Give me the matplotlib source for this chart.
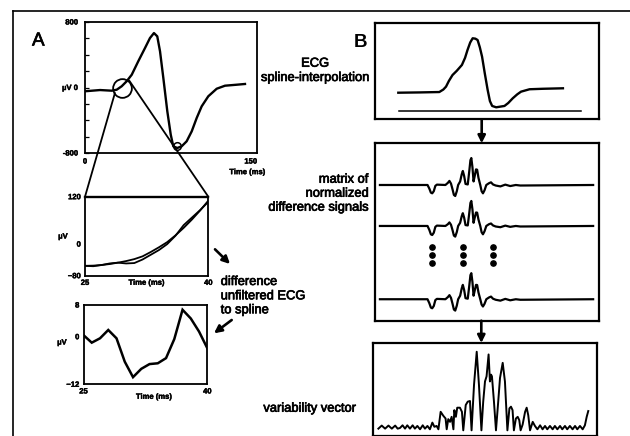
import matplotlib
matplotlib.use('Agg')
import matplotlib.pyplot as plt
from matplotlib.patches import ConnectionPatch
import matplotlib.patheffects as pe

plt.rcParams['font.family'] = ['Liberation Sans', 'DejaVu Sans']

# ---------------- data ----------------
# Panel A, top: full ECG beat (time ms, microvolt)
ecg_t = [0, 13.6, 24.2, 28.7, 33.2, 37.7, 42.3, 48.2, 54.3, 58.8, 62.4, 65.4, 67.9,
         70.9, 74.5, 77.6, 79.9, 83.5, 87.5, 92.0, 96.6, 101.1, 105.6, 111.6, 119.2,
         126.7, 137.3, 144.8]
ecg_uv = [-46, -31, -39, -27, 15, 76, 156, 320, 482, 604, 665, 625, 442,
          116, -291, -576, -718, -739, -718, -657, -535, -372, -230, -107, -15,
          22, 34, 43]

# Panel A, middle: zoom 25-40 ms, unfiltered ECG and spline
zoom_t = [25, 26, 27, 28, 29, 30, 31, 32, 33, 34, 35, 36, 37, 38, 39, 40]
zoom_spline = [-55, -54.5, -53, -50.5, -47, -43, -38, -31, -20, -8, 5, 22, 41, 62, 85, 110]
zoom_ecg = [-55, -56, -53, -49, -47, -49, -48, -39, -27, -15, 0, 21, 48, 67, 86, 107]

# Panel A, bottom: difference unfiltered ECG - spline
diff_uv = [0.4, -1.5, -0.4, 1.7, -0.4, -6.3, -10.2, -8.1, -6.9, -6.7, -5.4, -0.6,
           6.8, 4.6, 1.3, -2.9]

# Panel B, box 1: spline ECG (arbitrary units)
b_ecg_t = [10.4, 20, 28.7, 30.5, 31.7, 33.0, 34.6, 36.5, 38.8, 40.2, 41.3, 42.5, 43.6,
           44.8, 45.8, 46.8, 47.8, 49.0, 50.3, 51.3, 52.3, 54.1, 57.8, 59.5, 61.5,
           63.5, 65.2, 69.0, 75.0, 83.9]
b_ecg_v = [27.7, 28.0, 28.4, 31.0, 34.0, 40.0, 46.1, 50.5, 56.6, 64.0, 72.2, 80.0, 84.4,
           84.0, 82.6, 75.0, 65.2, 48.0, 30.5, 19.0, 13.9, 12.5, 13.9, 17.0, 21.9,
           26.0, 28.8, 31.3, 31.8, 32.3]
b_base_t = [10.7, 92]
b_base_v = [8.3, 8.3]

# Panel B, box 2: normalized difference signals (three rows)
diff_u = [2.2, 23.5, 24.3, 25.0, 25.6, 26.3, 27.0, 27.7, 31.5, 32.6, 33.3, 34.0, 34.7,
          35.3, 35.9, 36.6, 37.2, 38.1, 38.8, 39.3, 39.9, 40.5, 41.5, 42.2, 42.7, 43.1,
          43.6, 44.1, 44.6, 45.2, 45.7, 46.3, 47.1, 47.7, 48.3, 49.0, 49.8, 51.0, 51.9,
          52.8, 54.0, 56.1, 58.3, 60.5, 63.0, 65.0, 97.6]
diff_row1 = [0, 0, -2.0, -4.3, -4.7, -3.5, -0.5, 0.2, 0, 1.2, 2.3, 0.8, -2.5, -5.6, -6.2,
             -3.5, 0, 2.0, 6.0, 7.9, 5.0, 0.6, 0.3, 8.0, 14.0, 15.2, 10.0, 2.0, 5.0, 8.8,
             8.6, 4.0, 0, -3.5, -4.7, -3.0, 0, 1.0, 1.5, 0.3, -0.3, -0.8, 0.2, -0.6, 0.0,
             -0.3, 0]
diff_row2 = [0, 0, -2.2, -4.7, -5.1, -3.8, -0.5, 0.2, 0, 1.0, 2.0, 0.7, -2.4, -5.4, -6.0,
             -3.4, 0, 1.8, 5.5, 7.2, 4.6, 0.5, 0.3, 7.5, 13.0, 14.1, 9.3, 1.8, 4.6, 7.6,
             7.5, 3.6, 0, -3.5, -4.7, -3.0, 0, 1.0, 1.4, 0.3, -0.3, -0.7, 0.2, -0.5, 0.0,
             -0.3, 0]
diff_row3 = [0, 0, -2.2, -4.7, -5.1, -3.8, -0.5, 0.2, 0, 1.2, 2.3, 0.8, -2.6, -5.8, -6.4,
             -3.6, 0, 2.0, 6.1, 8.1, 5.1, 0.6, 0.3, 7.8, 13.6, 14.7, 9.7, 2.0, 4.8, 8.1,
             8.0, 3.8, 0, -3.0, -4.1, -2.6, 0, 1.0, 1.5, 0.3, -0.3, -0.8, 0.2, -0.6, 0.0,
             -0.3, 0]
dot_cols = [25.7, 39.3, 52.6]
dot_rows = [41.7, 37.0, 32.3]

# Panel B, box 3: variability vector
var_u = [2.4, 3.9, 5.4, 6.9, 8.4, 9.9, 11.0, 12.05, 13.2, 14.3, 15.3, 16.5, 17.7, 18.7,
         19.8, 21.0, 22.2, 23.2, 24.3, 25.4, 26.5, 27.4, 28.4, 29.2, 30.2, 31.4, 32.4,
         32.9, 33.6, 34.4, 35.1, 35.9, 36.3, 37.0, 37.6, 38.8, 39.7, 40.3, 41.4, 42.3,
         43.3, 44.0, 45.1, 46.3, 47.3, 48.4, 49.2, 50.0, 50.7, 51.6, 52.2, 52.7, 53.1,
         54.0, 54.9, 55.9, 56.7, 57.9, 58.9, 60.0, 60.9, 61.6, 62.3, 62.9, 63.8, 64.6,
         65.3, 65.9, 66.8, 67.9, 68.6, 69.3, 70.1, 71.3, 72.3, 73.4, 74.6, 75.7, 76.8,
         77.8, 79.0, 80.2, 81.2, 82.3, 83.5, 84.5, 85.7, 86.7, 87.9, 89.1, 90.2, 91.2,
         92.4, 93.6, 94.6, 95.4, 96.1]
var_v = [9.0, 12.3, 9.0, 12.3, 9.0, 12.3, 9.0, 9.7, 12.6, 9.0, 12.6, 9.0, 12.6, 9.0,
         11.9, 8.3, 12.6, 9.0, 11.9, 8.3, 15.5, 11.0, 11.9, 8.3, 27.1, 22.8, 19.9, 8.3,
         19.2, 16.3, 21.7, 8.3, 28.9, 21.7, 31.5, 31.5, 27.1, 7.2, 34.4, 38.0, 38.7, 7.2,
         56.1, 91.6, 56.1, 7.2, 38.0, 59.7, 65.2, 88.7, 59.7, 67.0, 65.2, 38.0, 7.2, 38.0,
         63.4, 79.7, 59.7, 7.2, 30.8, 32.6, 28.9, 7.2, 19.9, 21.7, 18.1, 7.2, 13.4, 27.1,
         31.5, 23.5, 7.2, 16.3, 11.9, 8.3, 12.6, 8.3, 11.9, 8.3, 11.9, 8.3, 11.9, 8.3,
         11.9, 8.3, 11.9, 8.3, 11.9, 8.3, 11.9, 8.3, 11.9, 8.3, 12.6, 21.7, 27.9]

# ---------------- figure ----------------
W, H = 630, 436
fig = plt.figure(figsize=(6.3, 4.36), dpi=100)
fig.patch.set_facecolor('white')

THICK = [pe.withStroke(linewidth=0.5, foreground='black')]
THIN = [pe.withStroke(linewidth=0.3, foreground='black')]


def px_axes(l, t, r, b, **kw):
    return fig.add_axes([l / W, 1 - b / H, (r - l) / W, (b - t) / H], **kw)


def style_spines(ax, lw):
    for s in ax.spines.values():
        s.set_linewidth(lw)
        s.set_color('black')


def bold_ticks(ax, size=5.5):
    for lab in ax.get_xticklabels() + ax.get_yticklabels():
        lab.set_fontweight('bold')
        lab.set_fontsize(size)
        lab.set_path_effects(THIN)


LW = 1.7

# --- A top
a1 = px_axes(85, 22, 256.7, 153)
a1.plot(ecg_t, ecg_uv, color='black', lw=LW, solid_joinstyle='round')
a1.set_xlim(0, 155.4)
a1.set_ylim(-800, 800)
a1.set_yticks([-800, 0, 800])
a1.set_yticklabels(['-800', 'µV 0', '800'])
a1.set_yticks(list(range(-800, 801, 200)), minor=True)
a1.set_xticks([0, 150])
a1.set_xticklabels(['0', '150'])
a1.tick_params(axis='y', which='both', direction='in', length=3, width=0.9, pad=5)
a1.tick_params(axis='x', length=0, pad=4)
bold_ticks(a1)
style_spines(a1, 1.3)
a1.plot([33.2], [-6], 'o', mfc='none', mec='black', ms=13.5, mew=1.3)
a1.plot([83.5], [-718], 'o', mfc='none', mec='black', ms=5.5, mew=1.1)
a1.text(0.946, -0.15, 'Time (ms)', transform=a1.transAxes, ha='center', va='center',
        fontsize=5.5, fontweight='bold', path_effects=THIN)

# --- A middle
a2 = px_axes(85, 196.7, 208.3, 275.7)
a2.plot(zoom_t, zoom_spline, color='black', lw=1.3)
a2.plot(zoom_t, zoom_ecg, color='black', lw=1.3)
a2.set_xlim(25, 40)
a2.set_ylim(-80, 120)
a2.set_yticks([-80, 0, 120])
a2.set_xticks([25, 40])
a2.tick_params(length=0, pad=3)
bold_ticks(a2)
style_spines(a2, 1.3)
a2.spines['top'].set_linewidth(1.7)
a2.text(0.5, -0.096, 'Time (ms)', transform=a2.transAxes, ha='center', va='center',
        fontsize=5.5, fontweight='bold', path_effects=THIN)

# --- A bottom
a3 = px_axes(83.5, 305, 207.3, 384.3)
a3.plot(zoom_t, diff_uv, color='black', lw=1.8, solid_joinstyle='miter')
a3.set_xlim(25, 40)
a3.set_ylim(-12, 8)
a3.set_yticks([-12, 0, 8])
a3.set_xticks([25, 40])
a3.tick_params(length=0, pad=3)
bold_ticks(a3)
style_spines(a3, 1.3)
a3.text(0.57, -0.164, 'Time (ms)', transform=a3.transAxes, ha='center', va='center',
        fontsize=5.5, fontweight='bold', path_effects=THIN)

# connector lines (zoom)
for xyA, xyB in [((27.1, -67), (25, 120)), ((40.1, 83), (40, 120))]:
    con = ConnectionPatch(xyA=xyA, coordsA='data', axesA=a1, xyB=xyB, coordsB='data',
                          axesB=a2, color='black', lw=1.3)
    fig.add_artist(con)

# --- B box 1
b1 = px_axes(375, 23.3, 599, 119.3)
b1.plot(b_ecg_t, b_ecg_v, color='black', lw=LW, solid_joinstyle='round')
b1.plot(b_base_t, b_base_v, color='black', lw=1.1)
b1.set_xlim(0, 100)
b1.set_ylim(0, 100)
b1.set_xticks([]); b1.set_yticks([])
style_spines(b1, 1.6)

# --- B box 2
b2 = px_axes(375, 143.3, 598.5, 320.7)
for off, row in zip([76.5, 53.4, 12.1], [diff_row1, diff_row2, diff_row3]):
    b2.plot(diff_u, [off + a for a in row], color='black', lw=1.6, solid_joinstyle='round')
for cx in dot_cols:
    b2.plot([cx] * len(dot_rows), dot_rows, 'o', color='black', ms=3.8, ls='none')
b2.set_xlim(0, 100)
b2.set_ylim(0, 100)
b2.set_xticks([]); b2.set_yticks([])
style_spines(b2, 1.6)

# --- B box 3
b3 = px_axes(373, 343, 597, 436)
b3.plot(var_u, var_v, color='black', lw=1.4, solid_joinstyle='round')
b3.set_xlim(0, 100)
b3.set_ylim(1.1, 101)
b3.set_xticks([]); b3.set_yticks([])
style_spines(b3, 1.6)

# --- overlay for frame, labels, arrows
ov = fig.add_axes([0, 0, 1, 1], zorder=5)
ov.set_xlim(0, W)
ov.set_ylim(H, 0)
ov.axis('off')
ov.patch.set_alpha(0)

ov.plot([12.7, W + 5], [11, 11], color='black', lw=1.2, clip_on=False)
ov.plot([12.7, 12.7], [11, H + 5], color='black', lw=1.2, clip_on=False)

ov.text(38.3, 45.5, 'A', fontsize=13.5, ha='center', va='baseline', path_effects=THICK)
ov.text(360.3, 46.7, 'B', fontsize=13.5, ha='center', va='baseline', fontweight='bold')

fs = 9.3
ov.text(63, 237, 'µV', fontsize=5.5, fontweight='bold', ha='center', va='center',
        path_effects=THIN)
ov.text(62, 343, 'µV', fontsize=5.5, fontweight='bold', ha='center', va='center',
        path_effects=THIN)

labels = [
    (315, 66.7, 'ECG', 'center'),
    (315, 81, 'spline-interpolation', 'center'),
    (368.3, 182.7, 'matrix of', 'right'),
    (368.3, 196.7, 'normalized', 'right'),
    (368.3, 210.7, 'difference signals', 'right'),
    (220.7, 285, 'difference', 'left'),
    (220.7, 299.3, 'unfiltered ECG', 'left'),
    (220.7, 313.3, 'to spline', 'left'),
    (356, 411.7, 'variability vector', 'right'),
]
for x, y, s, ha in labels:
    ov.text(x, y, s, fontsize=fs, ha=ha, va='baseline', path_effects=THICK)

arrow_kw = dict(arrowstyle='-|>', color='black', lw=1.9, mutation_scale=11,
                shrinkA=0, shrinkB=0)
ov.annotate('', xy=(230, 264), xytext=(215, 249.3), arrowprops=arrow_kw)
ov.annotate('', xy=(214, 333.3), xytext=(231.7, 320), arrowprops=arrow_kw)
ov.annotate('', xy=(481.7, 143.3), xytext=(481.7, 119.3), arrowprops=arrow_kw)
ov.annotate('', xy=(481.3, 343), xytext=(481.3, 320.7), arrowprops=arrow_kw)

fig.savefig('out.png', dpi=100, facecolor='white')
